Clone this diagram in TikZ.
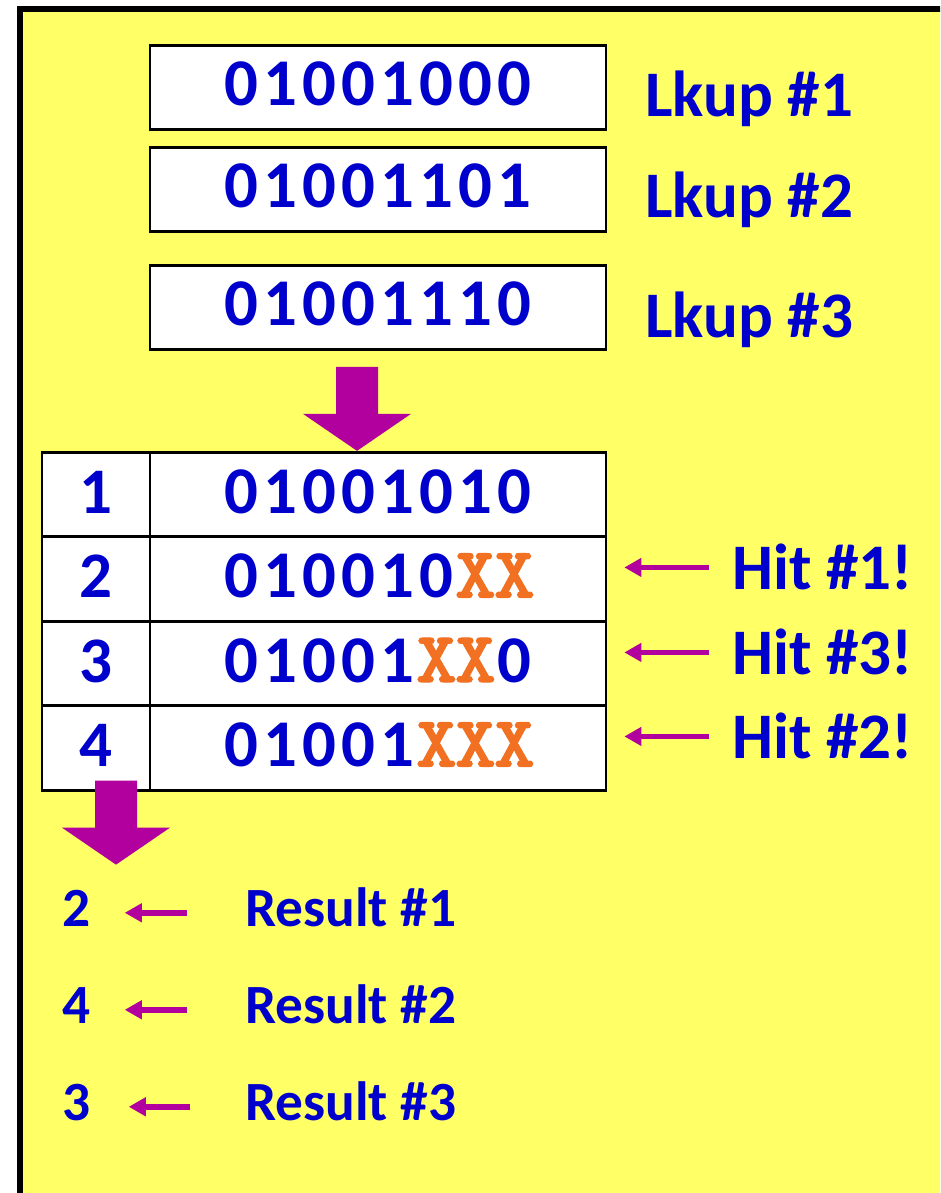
\documentclass[tikz,border=0pt]{standalone}
\usepackage{fontspec}
\setmainfont{Carlito}
\newfontfamily\xfont{lmmonolt10-bold.otf}[FakeBold=1.5, FakeStretch=1.08]
\usetikzlibrary{arrows.meta,calc}
\definecolor{padyellow}{RGB}{255,255,102}
\definecolor{keyblue}{RGB}{0,0,204}
\definecolor{hitmagenta}{RGB}{178,0,158}
\definecolor{wildorange}{RGB}{241,112,34}

% one fixed-width cell per bit, X is a wildcard bit
\newcommand\bitcell[1]{\if X#1{\xfont\fontsize{41}{44}\selectfont\color{wildorange}\makebox[0.78cm]{X}}\else\makebox[0.78cm]{#1}\fi}
\def\bitloop#1{\ifx\relax#1\else\bitcell{#1}\expandafter\bitloop\fi}
\newcommand\bits[1]{\expandafter\bitloop#1\relax}
% fat down arrow, given its tip
\newcommand\fatarrow[1]{\fill[hitmagenta] #1 -- ++(-54,-37) -- ++(33,0) -- ++(0,-47) -- ++(42,0) -- ++(0,47) -- ++(33,0) -- cycle;}

\begin{document}
\begin{tikzpicture}[x=0.02cm, y=-0.02cm,
  every node/.style={font=\bfseries, text=keyblue, inner sep=0pt},
  cell/.style={draw, line width=1.6pt, fill=white, minimum height=1.69cm,
    font=\bfseries\fontsize{38}{40}\selectfont, text height=0.86cm, text depth=0.12cm},
  keybox/.style={cell, minimum width=9.12cm},
  idxbox/.style={cell, minimum width=2.16cm, font=\bfseries\fontsize{37}{40}\selectfont},
  tag/.style={anchor=base west, font=\bfseries\fontsize{37}{40}\selectfont},
  restag/.style={anchor=base west, font=\bfseries\fontsize{31.5}{34}\selectfont},
  ptr/.style={draw=hitmagenta, line width=2.9pt, -{Triangle[length=0.34cm, width=0.36cm]}}]
\useasboundingbox (0,0) rectangle (940,1193);
\clip (0,0) rectangle (940,1193);
\fill[white] (0,0) rectangle (940,1193);
\fill[padyellow] (20,9) rectangle (980,1230);
\draw[line width=3.4pt] (20,1230) -- (20,9) -- (980,9);

% lookup keys
\node[keybox] (key1) at (378,87.5) {\bits{01001000}};
\node[keybox] (key2) at (378,189.5) {\bits{01001101}};
\node[keybox] (key3) at (378,307.5) {\bits{01001110}};
\node[tag] (lk1) at (645,116) {Lkup \#1};
\node[tag] (lk2) at (645,217) {Lkup \#2};
\node[tag] (lk3) at (645,337) {Lkup \#3};

% the table
\foreach \i/\p in {1/01001010, 2/010010XX, 3/01001XX0, 4/01001XXX} {
  \node[idxbox] (idx\i) at (96,410+84.5*\i) {\i};
  \node[keybox, minimum height=1.69cm] (pat\i) at (378,410+84.5*\i) {\bits{\p}};
}
\fatarrow{($(pat1.north)+(-21,0)$)}

% hits
\node[tag] (hitA) at (732,589) {Hit \#1!};
\node[tag] (hitC) at (732,674) {Hit \#3!};
\node[tag] (hitB) at (732,758) {Hit \#2!};
\draw[ptr] ($(hitA.west)+(-23,1)$) -- ($(pat2.east |- hitA.west)+(17,1)$);
\draw[ptr] ($(hitC.west)+(-23,1)$) -- ($(pat3.east |- hitC.west)+(17,1)$);
\draw[ptr] ($(hitB.west)+(-23,1)$) -- ($(pat4.east |- hitB.west)+(17,1)$);

\fatarrow{($(idx4.south)+(20,73)$)}

% results
\node[restag] (num1) at (62,926) {2};
\node[restag] (num2) at (62,1023) {4};
\node[restag] (num3) at (62,1120) {3};
\node[restag] (res1) at (245,926) {Result \#1};
\node[restag] (res2) at (245,1023) {Result \#2};
\node[restag] (res3) at (245,1120) {Result \#3};
\draw[ptr, line width=3.4pt] ($(res1.west)+(-58,6)$) -- ($(num1.east |- res1.west)+(34,6)$);
\draw[ptr, line width=3.4pt] ($(res2.west)+(-58,6)$) -- ($(num2.east |- res2.west)+(34,6)$);
\draw[ptr, line width=3.4pt] ($(res3.west)+(-55,6)$) -- ($(num3.east |- res3.west)+(38,6)$);
\end{tikzpicture}
\end{document}
